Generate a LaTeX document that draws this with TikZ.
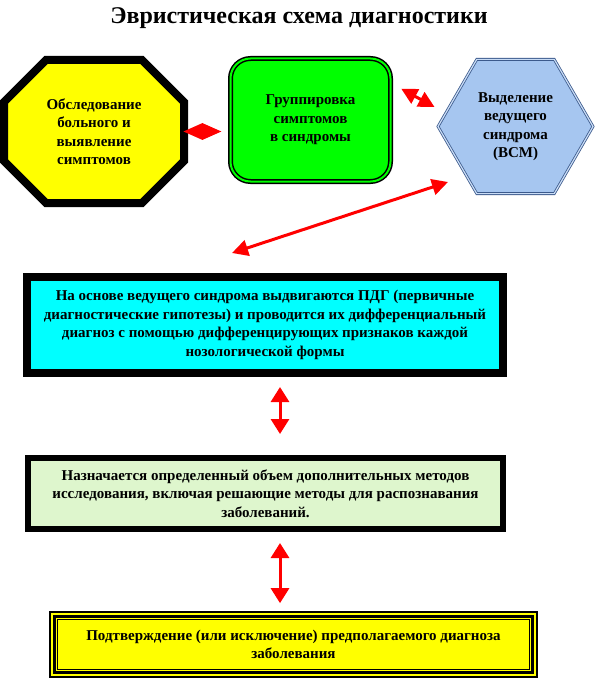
\documentclass[tikz,border=0pt]{standalone}
\usepackage{fontspec}
\setmainfont{Liberation Serif}
\usetikzlibrary{positioning}
\usetikzlibrary{shapes.geometric}
\usetikzlibrary{arrows.meta}

\definecolor{lightgreen}{RGB}{0,255,0}
\definecolor{boxcyan}{RGB}{0,255,255}
\definecolor{boxyellow}{RGB}{255,255,0}
\definecolor{hexblue}{RGB}{166,198,240}
\definecolor{hexline}{RGB}{60,90,140}
\definecolor{palegreen}{RGB}{222,246,205}

\begin{document}
\begin{tikzpicture}[x=1pt,y=-1pt,
 txt/.style={font=\bfseries\fontsize{15}{18.5}\selectfont, align=center, text=black},
 redarr/.style={red, line width=3pt, {Triangle[width=16pt,length=16pt]}-{Triangle[width=16pt,length=16pt]}},
 link/.style={diamond, fill=red, minimum width=38pt, minimum height=17pt, inner sep=0pt},
 grpbox/.style={txt, rectangle, rounded corners=20pt, fill=lightgreen, draw=black, line width=1.5pt, double=lightgreen, double distance=2pt, minimum width=160pt, minimum height=123pt},
 hexbox/.style={txt, regular polygon, regular polygon sides=6, minimum size=155pt, inner sep=0pt, fill=hexblue, draw=hexline, line width=0.8pt, double=hexblue!60!white, double distance=1.2pt},
 widebox/.style={txt, rectangle, draw=black}
]

\useasboundingbox (0,0) rectangle (610,679);

\node[font=\bfseries\fontsize{24}{28}\selectfont] (title) at (299,18) {Эвристическая схема диагностики};

\node[txt, minimum width=188pt, minimum height=151pt, inner sep=0pt] (exam) at (94,131.5) {};
\draw[shift={(exam.center)}, fill=boxyellow, draw=black, line width=8pt, line join=miter]
 (-90,-29.5)--(-48,-71.5)--(48,-71.5)--(90,-29.5)--(90,29.5)--(48,71.5)--(-48,71.5)--(-90,29.5)--cycle;
\node[txt] at (exam.center) {Обследование\\больного и\\выявление\\симптомов};

\node[grpbox] (grp) at (310.5,120) {Группировка\\симптомов\\в синдромы};

\node[hexbox] (hex) at (515.5,126.5) {Выделение\\ведущего\\синдрома\\(ВСМ)};

\node[link, right=-5pt of exam] (lnk) {};

\node[widebox, fill=boxcyan, line width=8pt, minimum width=476pt, minimum height=96pt] (box1) at (265,325)
 {На основе ведущего синдрома выдвигаются ПДГ (первичные\\диагностические гипотезы) и проводится их дифференциальный\\диагноз с помощью дифференцирующих признаков каждой\\нозологической формы};

\node[widebox, fill=palegreen, line width=6pt, minimum width=475pt, minimum height=71pt] (box2) at (265.5,493.5)
 {Назначается определенный объем дополнительных методов\\исследования, включая решающие методы для распознавания\\заболеваний.};

\node[widebox, fill=boxyellow, line width=1.7pt, minimum width=487pt, minimum height=65pt] (fin) at (293.5,644.5)
 {Подтверждение (или исключение) предполагаемого диагноза\\заболевания};
\draw[line width=3pt] ([shift={(4.9,4.9)}]fin.north west) rectangle ([shift={(-4.9,-4.9)}]fin.south east);
\draw[line width=1pt] ([shift={(8.5,8.5)}]fin.north west) rectangle ([shift={(-8.5,-8.5)}]fin.south east);

\draw[redarr] ([shift={(10,31)}]grp.north east) -- ([shift={(-3,-19.5)}]hex.west);
\draw[redarr] ([shift={(-67.5,55.5)}]hex.center) -- ([shift={(-33,-20)}]box1.north);
\draw[redarr, {Triangle[width=18pt,length=15pt]}-{Triangle[width=18pt,length=15pt]}] ([xshift=15pt]box1.south) ++(0,10) -- ([shift={(14.5,-21)}]box2.north);
\draw[redarr, {Triangle[width=18pt,length=15pt]}-{Triangle[width=18pt,length=15pt]}] ([shift={(14.5,11)}]box2.south) -- ([shift={(-13.5,-8)}]fin.north);

\end{tikzpicture}
\end{document}
